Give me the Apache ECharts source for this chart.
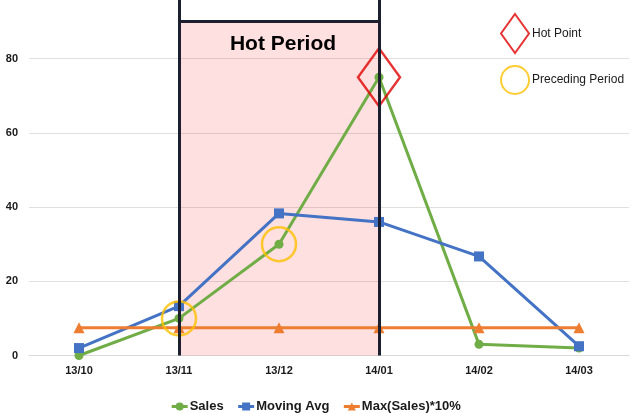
<!DOCTYPE html>
<html>
<head>
<meta charset="utf-8">
<script src="https://cdn.jsdelivr.net/npm/echarts@6/dist/echarts.min.js"></script>
<style>
html,body{margin:0;padding:0;background:#fff;}
#chart{width:631px;height:413px;}
</style>
</head>
<body>
<div id="chart"></div>
<script>
const categories = ['13/10', '13/11', '13/12', '14/01', '14/02', '14/03'];
const sales = [0, 10, 30, 75, 3, 2];
const movingAvg = [2, 13.3, 38.3, 36, 26.7, 2.5];
const maxSales10 = [7.5, 7.5, 7.5, 7.5, 7.5, 7.5];
const hotPoint = [null, null, null, 75, null, null];
const precedingPeriod = [null, 10, 30, null, null, null];
const hotPeriodRange = ['13/11', '14/01'];
const hotPeriodValues = [0, 90, 100];
const hotPeriodLabel = 'Hot Period';
const yTicks = { min: 0, max: 100, interval: 20 };

const toScatter = arr => arr.map(v => (v === null ? '-' : v));
const font = '"Liberation Sans", Arial, sans-serif';

const chart = echarts.init(document.getElementById('chart'), null, { renderer: 'canvas' });
chart.setOption({
  animation: false,
  backgroundColor: '#ffffff',
  grid: { left: 29, right: 2, top: -15.5, bottom: 57.5, containLabel: false, outerBoundsMode: 'none' },
  xAxis: {
    type: 'category',
    data: categories,
    boundaryGap: true,
    axisTick: { show: false },
    axisLine: { lineStyle: { color: '#d9d9d9', width: 1 } },
    axisLabel: { color: '#1a1a1a', fontWeight: 'bold', fontSize: 11, fontFamily: font, margin: 10 }
  },
  yAxis: {
    type: 'value',
    min: yTicks.min, max: yTicks.max, interval: yTicks.interval,
    axisLine: { show: false },
    axisTick: { show: false },
    splitLine: { lineStyle: { color: '#e0e0e0', width: 1 } },
    axisLabel: { color: '#1a1a1a', fontWeight: 'bold', fontSize: 11, fontFamily: font, margin: 11 }
  },
  legend: [
    {
      data: ['Sales', 'Moving Avg', 'Max(Sales)*10%'],
      left: 'center', top: 395,
      itemWidth: 16, itemHeight: 10, itemGap: 13,
      lineStyle: { width: 3 },
      textStyle: { color: '#1a1a1a', fontWeight: 'bold', fontSize: 13, fontFamily: font, padding: [0, 0, 0, -3] }
    },
    {
      data: ['Hot Point'],
      left: 495, top: 8, itemWidth: 28, itemHeight: 39,
      textStyle: { color: '#1a1a1a', fontSize: 12, fontFamily: font, padding: [0, 0, 0, -2] }
    },
    {
      data: ['Preceding Period'],
      left: 495, top: 60, itemWidth: 28, itemHeight: 30,
      textStyle: { color: '#1a1a1a', fontSize: 12, fontFamily: font, padding: [0, 0, 0, -2] }
    }
  ],
  series: [
    {
      name: 'Sales', type: 'line', data: sales, z: 2,
      symbol: 'circle', symbolSize: 9,
      lineStyle: { color: '#70ad47', width: 3 },
      itemStyle: { color: '#70ad47' }
    },
    {
      name: 'Moving Avg', type: 'line', data: movingAvg, z: 2,
      symbol: 'rect', symbolSize: 10,
      lineStyle: { color: '#4472c4', width: 3 },
      itemStyle: { color: '#4472c4' }
    },
    {
      name: 'Max(Sales)*10%', type: 'line', data: maxSales10, z: 2,
      symbol: 'triangle', symbolSize: 11,
      lineStyle: { color: '#ed7d31', width: 3 },
      itemStyle: { color: '#ed7d31' }
    },
    {
      name: 'Hot Point', type: 'scatter', data: toScatter(hotPoint), z: 2,
      symbol: 'diamond', symbolSize: [42, 58],
      itemStyle: { color: 'rgba(0,0,0,0)', borderColor: '#e00000', borderWidth: 2.5 }
    },
    {
      name: 'Preceding Period', type: 'scatter', data: toScatter(precedingPeriod), z: 2,
      symbol: 'circle', symbolSize: 34,
      itemStyle: { color: 'rgba(0,0,0,0)', borderColor: '#ffc000', borderWidth: 2.5 }
    },
    {
      name: 'hotPeriodOverlay', type: 'line', data: categories.map(() => null), z: 5,
      silent: true,
      markArea: {
        silent: true,
        itemStyle: { color: 'rgba(255,0,0,0.12)' },
        label: {
          show: true, position: 'insideTop', distance: 12, offset: [4, 0],
          color: '#000', fontWeight: 'bold', fontSize: 21, fontFamily: font
        },
        data: [[
          { name: hotPeriodLabel, xAxis: hotPeriodRange[0], yAxis: hotPeriodValues[0] },
          { xAxis: hotPeriodRange[1], yAxis: hotPeriodValues[1] }
        ]]
      },
      markLine: {
        silent: true,
        symbol: ['none', 'none'],
        label: { show: false },
        lineStyle: { color: '#1b1f2e', width: 3, type: 'solid' },
        data: [
          { xAxis: hotPeriodRange[0] },
          { xAxis: hotPeriodRange[1] },
          [
            { coord: [hotPeriodRange[0], hotPeriodValues[1]] },
            { coord: [hotPeriodRange[1], hotPeriodValues[1]] }
          ]
        ]
      }
    }
  ]
});
</script>
</body>
</html>
